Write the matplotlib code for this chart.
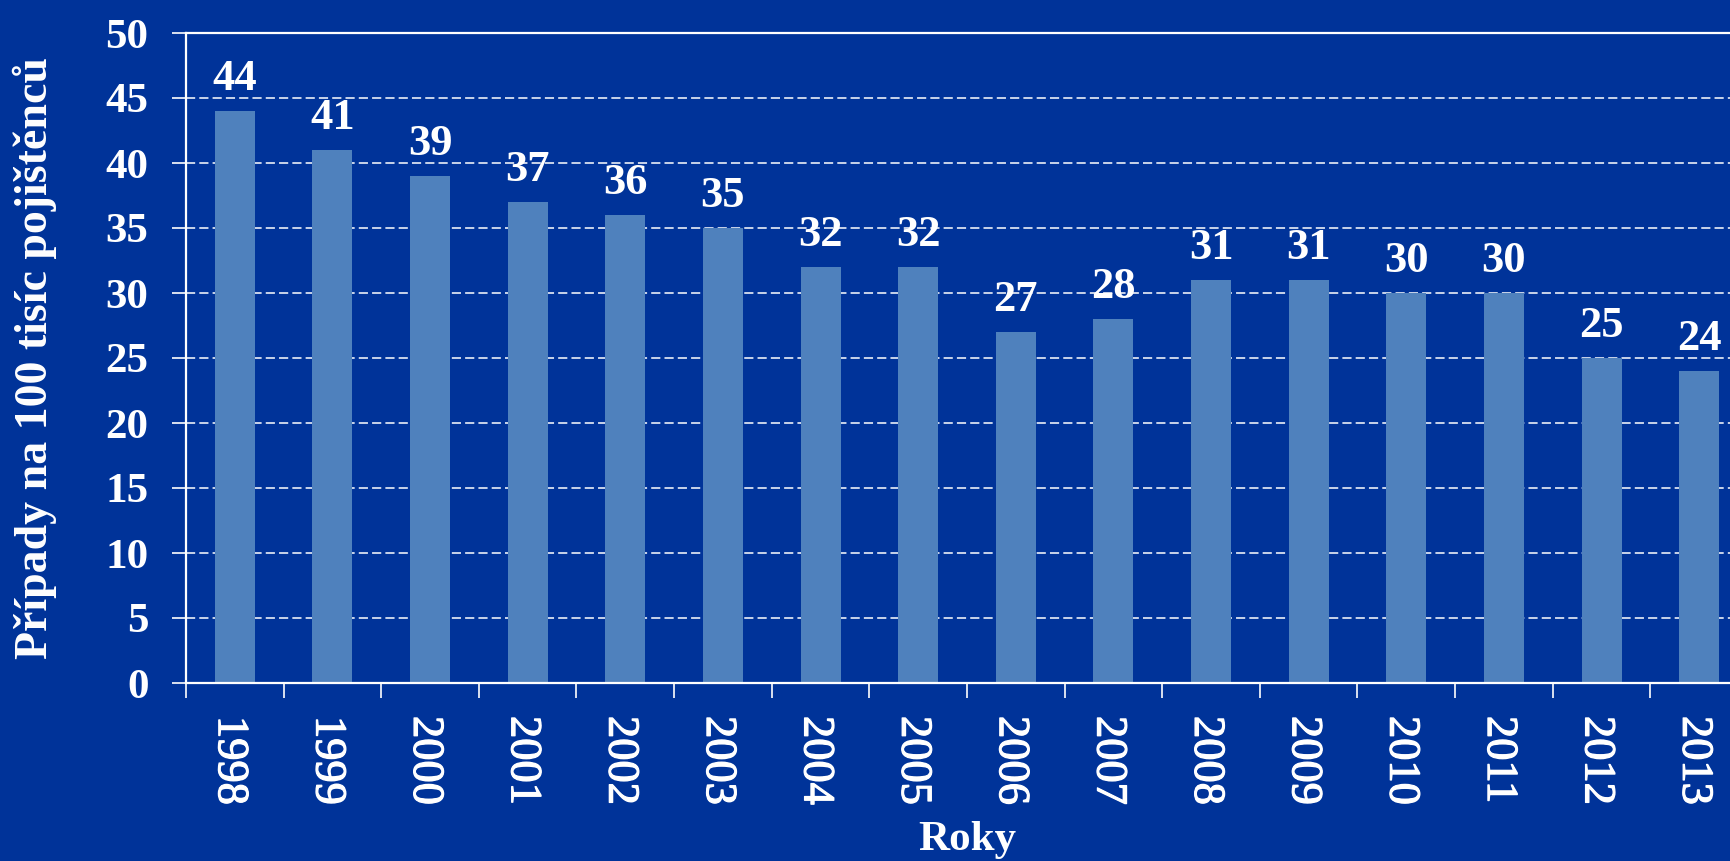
import matplotlib
matplotlib.use("Agg")
import matplotlib.pyplot as plt
import matplotlib.transforms as mtransforms
import matplotlib.patheffects as pe
import numpy as np

years = ["1998", "1999", "2000", "2001", "2002", "2003", "2004", "2005",
         "2006", "2007", "2008", "2009", "2010", "2011", "2012", "2013"]
values = [44, 41, 39, 37, 36, 35, 32, 32, 27, 28, 31, 31, 30, 30, 25, 24]
y_ticks = [0, 5, 10, 15, 20, 25, 30, 35, 40, 45, 50]

BG = "#003399"
BAR = "#4F81BD"
W = 1731
H = 861

plt.rcParams['font.family'] = ['Liberation Serif', 'DejaVu Serif']

fig = plt.figure(figsize=(W / 100, H / 100), dpi=100, facecolor=BG)
ax = fig.add_axes([186 / W, 178 / H, 1562 / W, 650 / H], facecolor=BG)

x = np.arange(len(years))
ax.bar(x, values, width=0.41, color=BAR, zorder=2)

for xi, v in zip(x, values):
    ax.annotate(str(v), (xi, v), xytext=(0, 15), textcoords='offset points',
                ha='center', va='baseline', color='white', fontsize=32,
                fontweight='bold', zorder=4)

ax.set_xlim(-0.5, len(years) - 0.5)
ax.set_ylim(0, 50)

# grid
for yt in y_ticks[1:-1]:
    ax.axhline(yt, color='white', lw=1.1, linestyle=(0, (6, 2.7)), zorder=1)

# y ticks
ax.set_yticks(y_ticks)
ax.set_yticklabels([str(t) for t in y_ticks])
ax.tick_params(axis='y', direction='out', length=10, width=1.2, color='white',
               labelcolor='white', labelsize=31, pad=17)
for lab in ax.get_yticklabels():
    lab.set_fontweight('bold')

# x ticks at category boundaries, labels drawn as text under each bar
ax.set_xticks(np.arange(len(years) + 1) - 0.5)
ax.set_xticklabels([])
ax.tick_params(axis='x', which='major', direction='out', length=11, width=1.2,
               color='white')
year_trans = mtransforms.offset_copy(ax.get_xaxis_transform(), fig=fig,
                                     x=-5, y=-33, units='dots')
for xi, yr in zip(x, years):
    ax.text(xi, 0, yr, transform=year_trans, rotation=-90, ha='center',
            va='top', fontsize=32, color='white', clip_on=False,
            path_effects=[pe.withStroke(linewidth=0.9, foreground='white')])

for side in ['left', 'bottom', 'top']:
    ax.spines[side].set_color('white')
    ax.spines[side].set_linewidth(1.6)
ax.spines['right'].set_visible(False)

ax.set_ylabel("Případy na 100 tisíc pojištěnců", color='white', fontsize=33,
              fontweight='bold')
ax.yaxis.set_label_coords((57 - 186) / 1562, 0.5)
ax.set_xlabel("Roky", color='white', fontsize=31, fontweight='bold')
ax.xaxis.set_label_coords(0.5, -(850 - 683) / 650, transform=ax.transAxes)
ax.xaxis.label.set_va('baseline')

fig.savefig("out.png", dpi=100, facecolor=BG)
